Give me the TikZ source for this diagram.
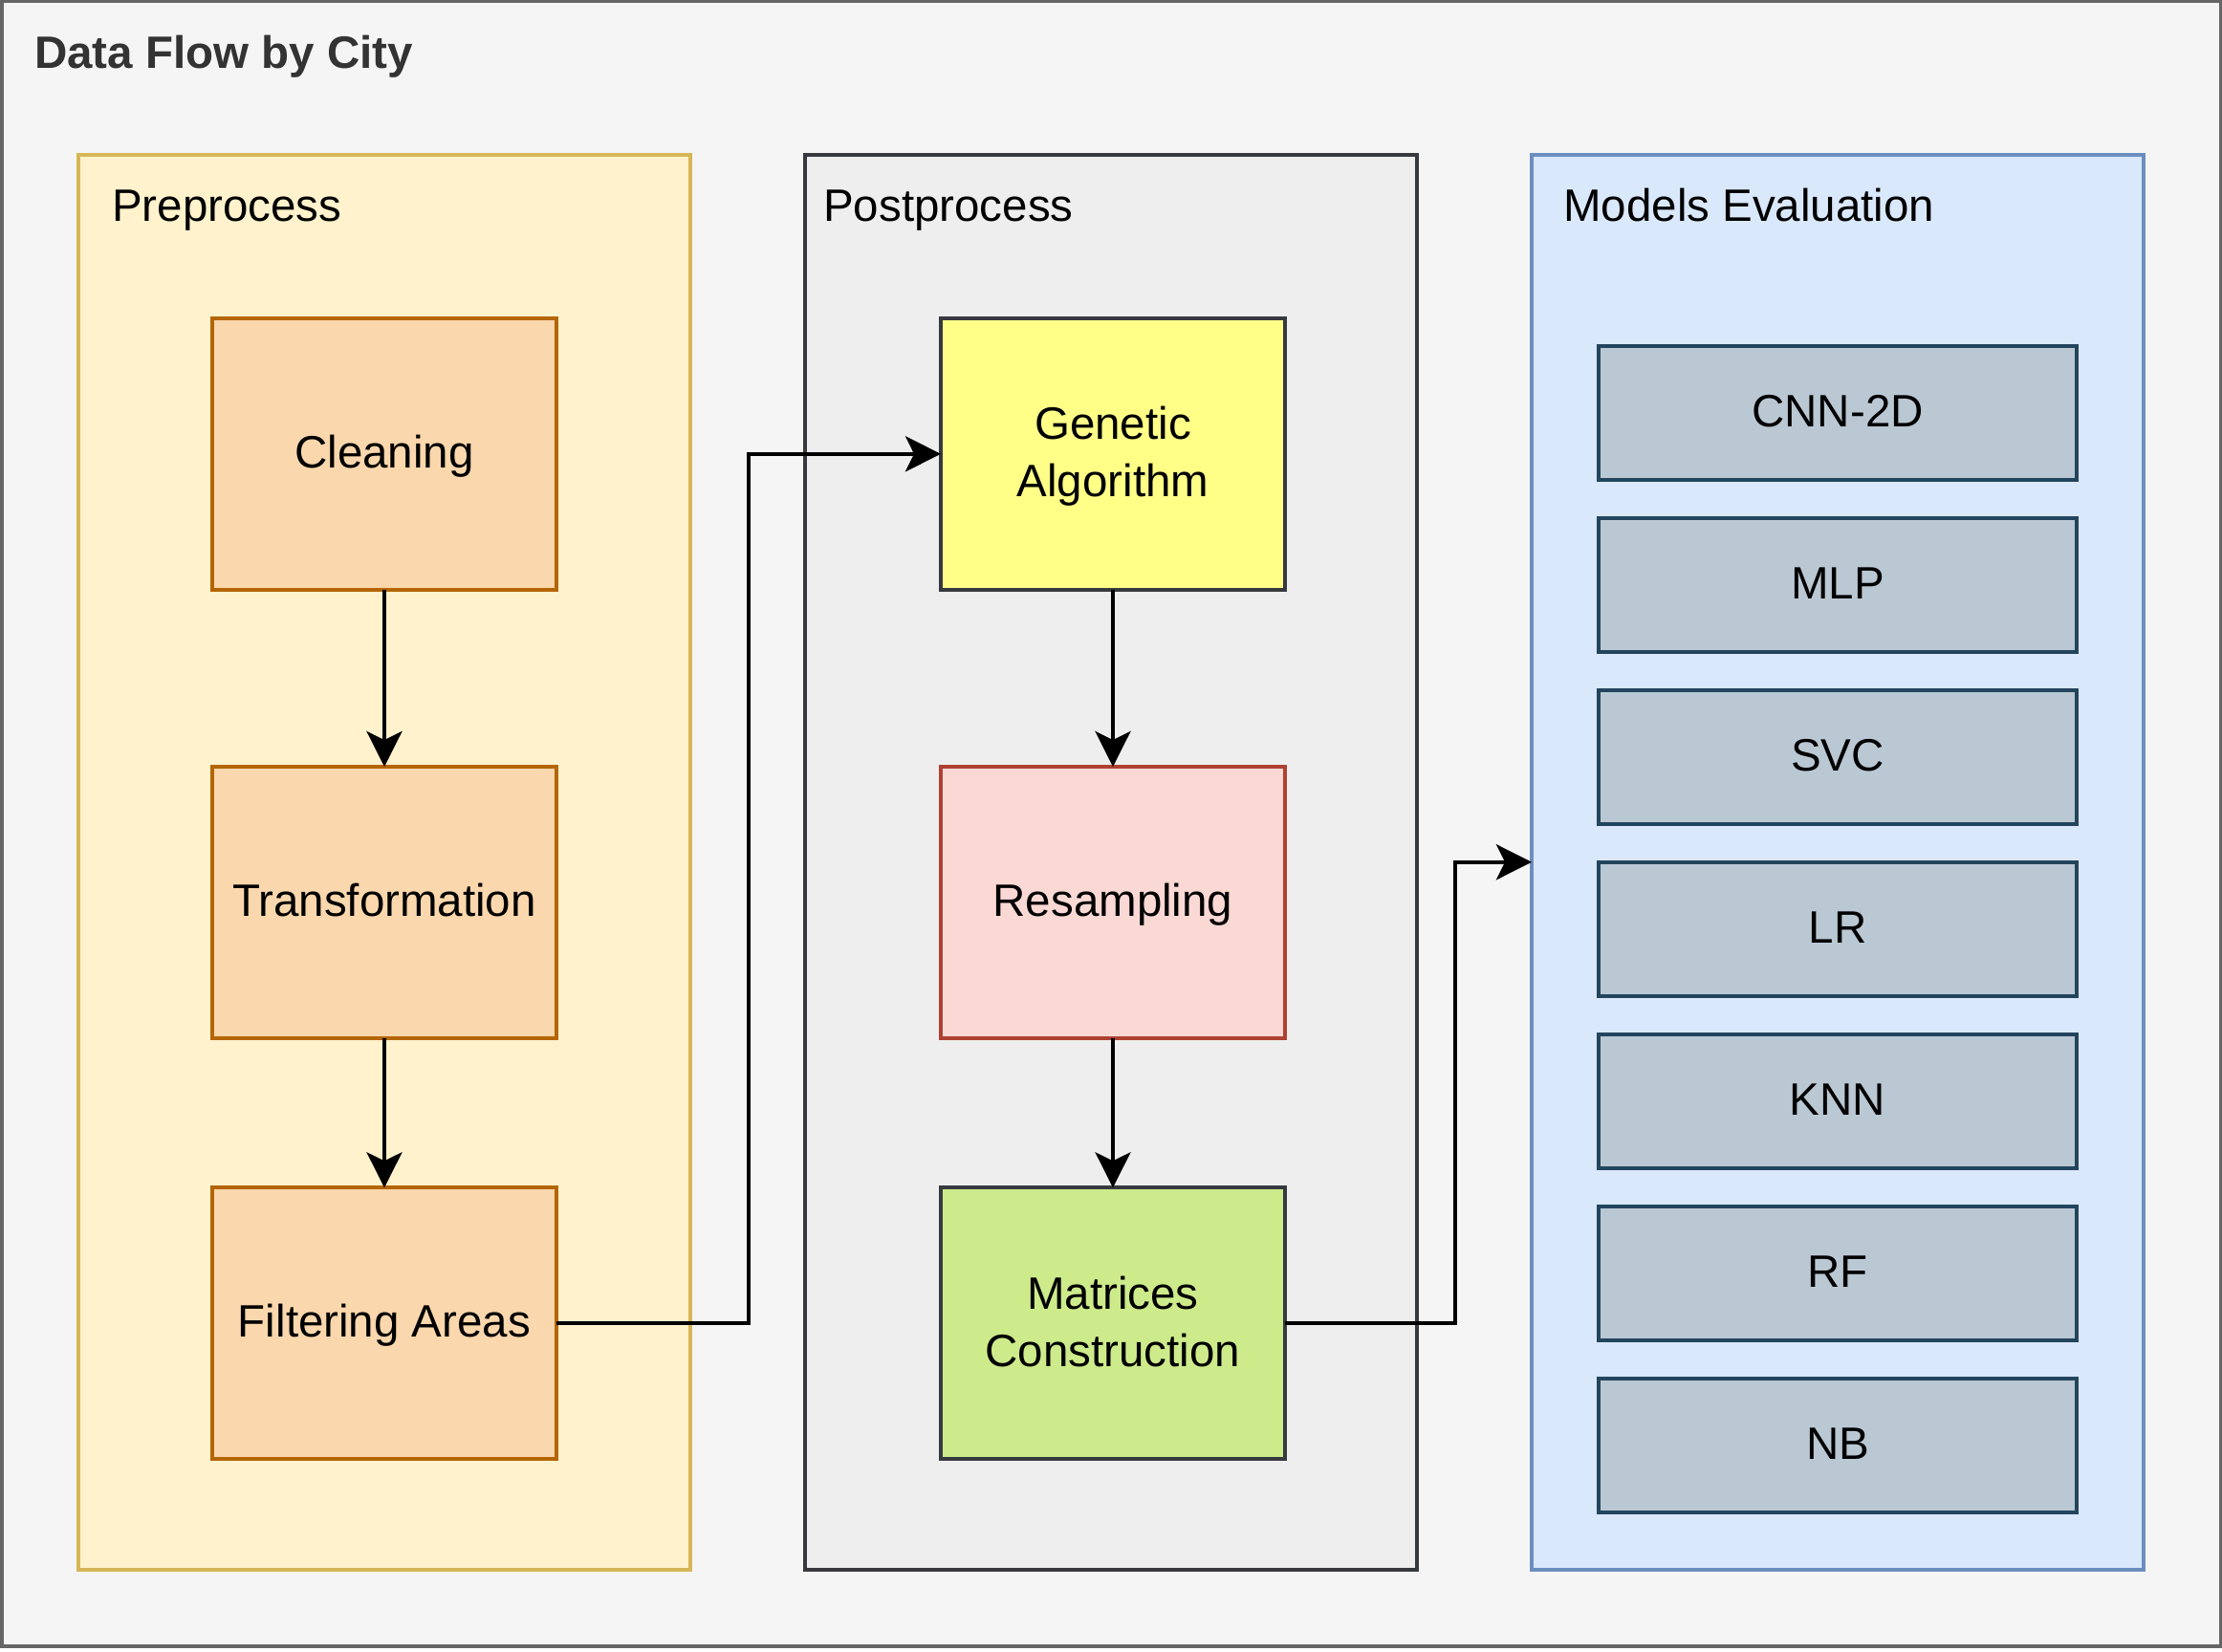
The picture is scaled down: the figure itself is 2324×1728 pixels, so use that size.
\documentclass[tikz,border=0pt]{standalone}
\usepackage{fontspec}
\setmainfont{Liberation Sans}
\usetikzlibrary{arrows.meta}
\definecolor{outerfill}{HTML}{F5F5F5}
\definecolor{outerdraw}{HTML}{666666}
\definecolor{titlecol}{HTML}{333333}
\definecolor{prefill}{HTML}{FFF2CC}
\definecolor{predraw}{HTML}{D6B656}
\definecolor{postfill}{HTML}{EEEEEE}
\definecolor{darkdraw}{HTML}{36393D}
\definecolor{modfill}{HTML}{DAE8FC}
\definecolor{moddraw}{HTML}{6C8EBF}
\definecolor{orfill}{HTML}{FAD7AC}
\definecolor{ordraw}{HTML}{B46504}
\definecolor{yelfill}{HTML}{FFFF88}
\definecolor{redfill}{HTML}{FAD9D5}
\definecolor{reddraw}{HTML}{AE4132}
\definecolor{grnfill}{HTML}{CDEB8B}
\definecolor{bluefill}{HTML}{BAC8D3}
\definecolor{bluedraw}{HTML}{23445D}
\tikzset{
  lbl/.style={font=\fontsize{47.5}{60}\selectfont, text height=40.5pt, text depth=12pt, align=center, inner sep=0pt},
  lbltwo/.style={text height=101.6pt, text depth=12pt},
  container/.style={draw, line width=4pt, minimum width=640pt, minimum height=1479.5pt, outer sep=0pt, inner sep=0pt},
  stepbox/.style={lbl, draw, line width=4pt, minimum width=360pt, minimum height=284pt, outer sep=0pt},
  modelbox/.style={lbl, draw=bluedraw, fill=bluefill, line width=4pt, minimum width=500pt, minimum height=140.6pt, outer sep=0pt},
  grouplabel/.style={font=\fontsize{47.5}{60}\selectfont, anchor=base west, inner sep=0pt},
  arr/.style={-{Stealth[length=37pt, width=37pt, inset=9pt]}, line width=4pt, black}
}
\begin{document}
\begin{tikzpicture}[x=1pt, y=-1pt]
\useasboundingbox (0,0) rectangle (2324,1728);
\draw[fill=outerfill, draw=outerdraw, line width=4pt] (1.5,1.5) rectangle (2322.5,1722);
\node[grouplabel, font=\fontsize{47.5}{60}\selectfont\bfseries, text=titlecol] (title) at (36,71.7) {Data Flow by City};

\node[container, fill=prefill, draw=predraw] (pre) at (402,901.75) {};
\node[container, fill=postfill, draw=darkdraw] (post) at (1162,901.75) {};
\node[container, fill=modfill, draw=moddraw] (models) at (1922,901.75) {};

\node[grouplabel] (prelbl) at (117,232) {Preprocess};
\node[grouplabel] (postlbl) at (861,232) {Postprocess};
\node[grouplabel] (modlbl) at (1635,232) {Models Evaluation};

\node[stepbox, fill=orfill, draw=ordraw] (clean) at (402,474.8) {Cleaning};
\node[stepbox, fill=orfill, draw=ordraw] (trans) at (402,944) {Transformation};
\node[stepbox, fill=orfill, draw=ordraw] (filt) at (402,1384.3) {Filtering Areas};

\node[stepbox, lbltwo, fill=yelfill, draw=darkdraw] (gen) at (1164,474.8) {Genetic\\Algorithm};
\node[stepbox, fill=redfill, draw=reddraw] (res) at (1164,944) {Resampling};
\node[stepbox, lbltwo, fill=grnfill, draw=darkdraw] (mat) at (1164,1384.3) {Matrices\\Construction};

\node[modelbox] (cnn) at (1922,432) {CNN-2D};
\node[modelbox] (mlp) at (1922,612) {MLP};
\node[modelbox] (svc) at (1922,792) {SVC};
\node[modelbox] (lr) at (1922,972) {LR};
\node[modelbox] (knn) at (1922,1152) {KNN};
\node[modelbox] (rf) at (1922,1332) {RF};
\node[modelbox] (nb) at (1922,1512) {NB};

\draw[arr] (clean.south) -- (trans.north);
\draw[arr] (trans.south) -- (filt.north);
\draw[arr] (gen.south) -- (res.north);
\draw[arr] (res.south) -- (mat.north);
\draw[arr] (filt.east) -- ++(201,0) |- (gen.west);
\draw[arr] (mat.east) -- ++(178,0) |- (models.west);
\end{tikzpicture}
\end{document}
